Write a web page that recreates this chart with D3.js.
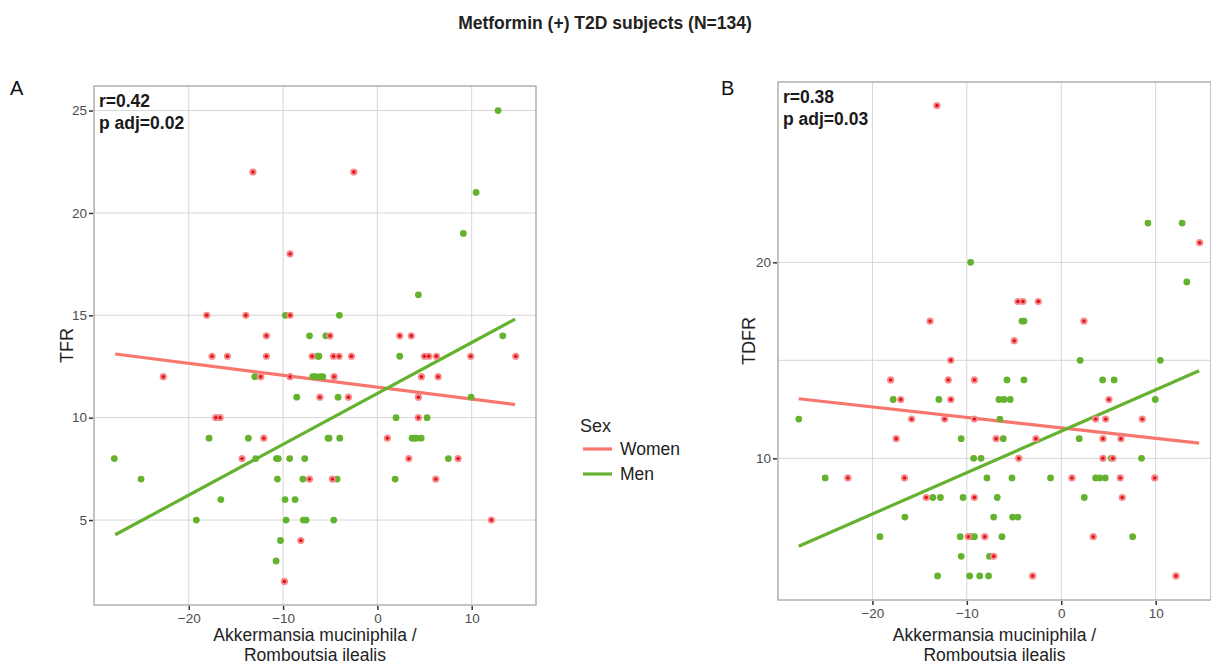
<!DOCTYPE html>
<html>
<head>
<meta charset="utf-8">
<script src="https://cdn.jsdelivr.net/npm/d3@7"></script>
<style>
  body { margin: 0; background: #fff; font-family: "Liberation Sans", Arial, sans-serif; }
  .tick text { fill: #4d4d4d; font-size: 13.5px; font-family: "Liberation Sans", Arial, sans-serif; }
  .tick line { stroke: #333; stroke-width: 1.5; }
  .grid line { stroke: #d6d6d6; stroke-width: 1; }
</style>
</head>
<body>
<div id="chart"></div>
<script>
// panel A (TFR)
var aWomenX = [-13.2, -2.5, -9.26, -18.1, -13.95, -9.26, -11.77, -5.02, 2.37, 3.6, -17.53, -15.9, -11.77, -6.92, -4.66, -4.06, -2.75, 4.99, 5.45, 6.26, 9.9, 14.67, -22.7, -12.37, -9.26, -4.59, 4.67, 6.44, -6.1, -3.07, 4.35, -17.14, -16.68, 4.35, -12.05, 1.06, -14.35, 3.33, 8.56, -7.2, -4.77, 6.19, 12.09, -8.12, -9.86];
var aWomenY = [22, 22, 18, 15, 15, 15, 14, 14, 14, 14, 13, 13, 13, 13, 13, 13, 13, 13, 13, 13, 13, 13, 12, 12, 12, 12, 12, 12, 11, 11, 11, 10, 10, 10, 9, 9, 8, 8, 8, 7, 7, 7, 5, 4, 2];
var aMenX = [12.8, 10.47, 9.12, 4.35, -9.75, -4.03, -7.2, -5.47, 13.3, -6.32, -6.2, 2.37, -13.0, -6.85, -6.57, -6.07, -5.79, -8.55, -4.17, 9.94, 1.98, 5.27, -17.85, -13.68, -5.23, -5.12, -3.99, 3.68, 3.92, 4.14, 4.64, -27.9, -12.9, -10.7, -10.5, -9.3, -7.7, 7.53, -25.06, -10.6, -7.9, -4.27, 1.88, -16.6, -9.79, -8.73, -19.2, -9.68, -7.85, -7.56, -4.63, -10.28, -10.74];
var aMenY = [25, 21, 19, 16, 15, 15, 14, 14, 14, 13, 13, 13, 12, 12, 12, 12, 12, 11, 11, 11, 10, 10, 9, 9, 9, 9, 9, 9, 9, 9, 9, 8, 8, 8, 8, 8, 8, 8, 7, 7, 7, 7, 7, 6, 6, 6, 5, 5, 5, 5, 5, 4, 3];

// panel B (TDFR)
var bWomenX = [-13.17, 14.66, -13.9, 2.4, -4.59, -4.06, -2.43, -4.98, -11.7, -18.07, -11.97, -9.2, -17.0, -11.7, 5.05, -15.85, -12.35, -9.2, 3.64, 4.7, 8.58, -17.48, -6.9, -2.68, 4.42, 6.32, -4.5, 4.42, 5.47, -22.6, -16.6, 1.13, 6.25, 9.9, -14.3, -9.2, 6.46, -9.85, -8.1, 3.39, -7.16, -3.03, 12.15];
var bWomenY = [28, 21, 17, 17, 18, 18, 18, 16, 15, 14, 14, 14, 13, 13, 13, 12, 12, 12, 12, 12, 12, 11, 11, 11, 11, 11, 10, 10, 10, 9, 9, 9, 9, 9, 8, 8, 8, 6, 6, 6, 5, 4, 4];
var bMenX = [9.18, 12.8, -9.6, 13.3, -4.16, -3.95, 2.0, 10.5, -5.75, -3.95, 4.38, 5.6, -17.8, -12.96, -6.6, -6.07, -5.4, 9.96, -27.8, -6.5, -10.6, -6.14, 1.9, -9.28, -8.5, 5.3, 8.5, -25.0, -7.87, -5.22, -1.13, 3.64, 4.07, 4.66, -13.6, -12.8, -10.4, -6.78, 2.44, -16.56, -7.16, -5.15, -4.59, -19.2, -10.7, -9.6, -9.2, -6.28, 7.56, -10.6, -7.6, -13.1, -9.7, -8.64, -7.7];
var bMenY = [22, 22, 20, 19, 17, 17, 15, 15, 14, 14, 14, 14, 13, 13, 13, 13, 13, 13, 12, 12, 11, 11, 11, 10, 10, 10, 10, 9, 9, 9, 9, 9, 9, 9, 8, 8, 8, 8, 8, 7, 7, 7, 7, 6, 6, 6, 6, 6, 6, 5, 5, 4, 4, 4, 4];

// fitted lines (end points)
var fitX = [-27.8, 14.6];
var aWomenFit = [13.11, 10.64];
var aMenFit = [4.28, 14.81];
var bWomenFit = [13.04, 10.77];
var bMenFit = [5.51, 14.47];

var xTicks = [-20, -10, 0, 10];
var aYTicks = [5, 10, 15, 20, 25];
var bYTicks = [10, 20];
var bYGrid = [10, 15, 20];

var red = '#f8766d';
var green = '#64b22e';

var width = 1211;
var height = 666;

var svg = d3.select('#chart')
  .append('svg')
  .attr('width', width)
  .attr('height', height);

// Title
svg.append('text')
  .attr('x', 605)
  .attr('y', 29)
  .attr('text-anchor', 'middle')
  .style('font-size', '17.5px')
  .style('font-weight', 'bold')
  .style('fill', '#222')
  .text('Metformin (+) T2D subjects (N=134)');

function drawPanel(opt) {
  var x = d3.scaleLinear().domain(opt.xDomain).range([opt.left, opt.right]);
  var y = d3.scaleLinear().domain(opt.yDomain).range([opt.bottom, opt.top]);

  var g = svg.append('g');

  // gridlines
  var grid = g.append('g').attr('class', 'grid');
  grid.selectAll('.vx').data(xTicks).enter().append('line')
    .attr('x1', function(d) { return x(d); })
    .attr('x2', function(d) { return x(d); })
    .attr('y1', opt.top).attr('y2', opt.bottom);
  grid.selectAll('.hy').data(opt.yGrid).enter().append('line')
    .attr('y1', function(d) { return y(d); })
    .attr('y2', function(d) { return y(d); })
    .attr('x1', opt.left).attr('x2', opt.right);

  // fitted lines
  var line = d3.line()
    .x(function(d) { return x(d[0]); })
    .y(function(d) { return y(d[1]); });

  g.append('path')
    .datum(d3.zip(fitX, opt.womenFit))
    .attr('d', line)
    .attr('fill', 'none')
    .attr('stroke', red)
    .attr('stroke-width', 3.2);

  g.append('path')
    .datum(d3.zip(fitX, opt.menFit))
    .attr('d', line)
    .attr('fill', 'none')
    .attr('stroke', green)
    .attr('stroke-width', 3.2);

  // men points
  g.selectAll('.men').data(d3.zip(opt.menX, opt.menY)).enter().append('circle')
    .attr('cx', function(d) { return x(d[0]); })
    .attr('cy', function(d) { return y(d[1]); })
    .attr('r', 3.4)
    .attr('fill', green);

  // women points: pink halo with red core
  var w = d3.zip(opt.womenX, opt.womenY);
  g.selectAll('.womenHalo').data(w).enter().append('circle')
    .attr('cx', function(d) { return x(d[0]); })
    .attr('cy', function(d) { return y(d[1]); })
    .attr('r', 3.6)
    .attr('fill', '#f68a8a');
  g.selectAll('.womenCore').data(w).enter().append('circle')
    .attr('cx', function(d) { return x(d[0]); })
    .attr('cy', function(d) { return y(d[1]); })
    .attr('r', 1.7)
    .attr('fill', '#e3101a');

  // panel border
  g.append('rect')
    .attr('x', opt.left).attr('y', opt.top)
    .attr('width', opt.right - opt.left)
    .attr('height', opt.bottom - opt.top)
    .attr('fill', 'none')
    .attr('stroke', '#b0b0b0')
    .attr('stroke-width', 1.5);

  // axes
  var xAxis = g.append('g')
    .attr('transform', 'translate(0,' + (opt.bottom + 1) + ')')
    .call(d3.axisBottom(x).tickValues(xTicks).tickSize(4).tickPadding(3));
  xAxis.select('.domain').remove();

  var yAxis = g.append('g')
    .attr('transform', 'translate(' + (opt.left - 1) + ',0)')
    .call(d3.axisLeft(y).tickValues(opt.yTicks).tickSize(4).tickPadding(2));
  yAxis.select('.domain').remove();

  // y label
  g.append('text')
    .attr('transform', 'translate(' + opt.yLabelX + ',' + ((opt.top + opt.bottom) / 2) + ') rotate(-90)')
    .attr('text-anchor', 'middle')
    .style('font-size', '18px')
    .style('fill', '#222')
    .text(opt.yLabel);

  // x label (two lines)
  var cx = (opt.left + opt.right) / 2;
  g.append('text')
    .attr('x', cx).attr('y', 641)
    .attr('text-anchor', 'middle')
    .style('font-size', '17.5px')
    .style('fill', '#222')
    .text('Akkermansia muciniphila /');
  g.append('text')
    .attr('x', cx).attr('y', 661)
    .attr('text-anchor', 'middle')
    .style('font-size', '17.5px')
    .style('fill', '#222')
    .text('Romboutsia ilealis');

  // stats
  g.append('text')
    .attr('x', opt.left + 5).attr('y', opt.top + 21)
    .style('font-size', '17.5px')
    .style('font-weight', 'bold')
    .style('fill', '#1a1a1a')
    .text(opt.r);
  g.append('text')
    .attr('x', opt.left + 5).attr('y', opt.top + 43)
    .style('font-size', '17.5px')
    .style('font-weight', 'bold')
    .style('fill', '#1a1a1a')
    .text(opt.p);

  // panel letter
  svg.append('text')
    .attr('x', opt.letterX).attr('y', 95)
    .style('font-size', '20px')
    .style('fill', '#111')
    .text(opt.letter);
}

drawPanel({
  left: 94, right: 536, top: 86, bottom: 605,
  xDomain: [-30.05, 16.82], yDomain: [0.85, 26.2],
  yTicks: aYTicks, yGrid: aYTicks,
  womenX: aWomenX, womenY: aWomenY, menX: aMenX, menY: aMenY,
  womenFit: aWomenFit, menFit: aMenFit,
  yLabel: 'TFR', yLabelX: 73,
  r: 'r=0.42', p: 'p adj=0.02',
  letter: 'A', letterX: 10
});

drawPanel({
  left: 778, right: 1211, top: 82, bottom: 600,
  xDomain: [-30.0, 15.86], yDomain: [2.77, 29.2],
  yTicks: bYTicks, yGrid: bYGrid,
  womenX: bWomenX, womenY: bWomenY, menX: bMenX, menY: bMenY,
  womenFit: bWomenFit, menFit: bMenFit,
  yLabel: 'TDFR', yLabelX: 755,
  r: 'r=0.38', p: 'p adj=0.03',
  letter: 'B', letterX: 721
});

// legend
var legend = svg.append('g');
legend.append('text')
  .attr('x', 580).attr('y', 432)
  .style('font-size', '18px')
  .style('fill', '#222')
  .text('Sex');

var legendItems = [['Women', red], ['Men', green]];
legend.selectAll('.key').data(legendItems).enter().append('line')
  .attr('x1', 583).attr('x2', 612)
  .attr('y1', function(d, i) { return 449 + i * 25; })
  .attr('y2', function(d, i) { return 449 + i * 25; })
  .attr('stroke', function(d) { return d[1]; })
  .attr('stroke-width', 3.2);
legend.selectAll('.lab').data(legendItems).enter().append('text')
  .attr('x', 620)
  .attr('y', function(d, i) { return 455 + i * 25; })
  .style('font-size', '17.5px')
  .style('fill', '#222')
  .text(function(d) { return d[0]; });
</script>
</body>
</html>
